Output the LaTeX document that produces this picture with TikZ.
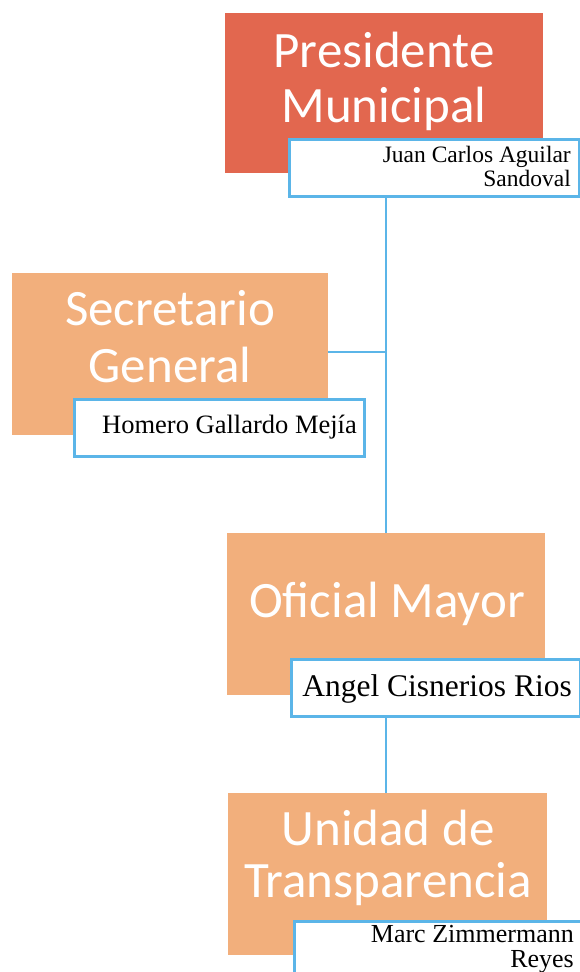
\documentclass[tikz,border=0pt]{standalone}
\usepackage{fontspec}
\setmainfont{Liberation Serif}
\newfontfamily\titlefont{Carlito}
\definecolor{presred}{HTML}{E2674F}
\definecolor{unitorange}{HTML}{F2AF7C}
\definecolor{linkblue}{HTML}{5BB5E8}
\tikzset{
  orgbox/.style={fill=unitorange, draw=none, inner sep=0pt},
  namebox/.style={fill=white, draw=linkblue, line width=2.5pt, inner sep=0pt},
  titletext/.style={text=white, font=\titlefont\fontsize{51}{55}\selectfont, anchor=base, inner sep=0pt},
  nametext/.style={text=black, anchor=base east, inner sep=0pt},
  link/.style={draw=linkblue, line width=2.5pt}
}
\begin{document}
\begin{tikzpicture}[x=1pt,y=-1pt]
\useasboundingbox[fill=white] (0,0) rectangle (580,972);
% Presidente Municipal
\node[orgbox, fill=presred, minimum width=318pt, minimum height=160pt, anchor=north west] (pres) at (225,13) {};
\node[titletext] (pres1) at (384,67) {Presidente};
\node[titletext] (pres2) at (384,122) {Municipal};
\node[namebox, minimum width=290pt, minimum height=57pt, anchor=north west] (presn) at (288,138) {};
\node[nametext, font=\fontsize{23.5}{24}\selectfont] (presn1) at (571,162) {Juan Carlos Aguilar};
\node[nametext, font=\fontsize{23.5}{24}\selectfont] (presn2) at (571,186) {Sandoval};
% Secretario General
\node[orgbox, minimum width=316pt, minimum height=162pt, anchor=north west] (sec) at (12,273) {};
\node[titletext] (sec1) at (170,325) {Secretario};
\node[titletext] (sec2) at (170,382) {General};
\node[namebox, minimum width=290pt, minimum height=57pt, anchor=north west] (secn) at (73,398) {};
\node[nametext, font=\fontsize{26.5}{28}\selectfont] (secn1) at (357,433) {Homero Gallardo Mejía};
% Oficial Mayor
\node[orgbox, minimum width=318pt, minimum height=162pt, anchor=north west] (ofi) at (227,533) {};
\node[titletext] (ofi1) at (387,617) {Oficial Mayor};
\node[namebox, minimum width=289pt, minimum height=57pt, anchor=north west] (ofin) at (290,658) {};
\node[nametext, font=\fontsize{31.5}{33}\selectfont] (ofin1) at (572,696) {Angel Cisnerios Rios};
% Unidad de Transparencia
\node[orgbox, minimum width=319pt, minimum height=162pt, anchor=north west] (uni) at (228,793) {};
\node[titletext] (uni1) at (388,845) {Unidad de};
\node[titletext] (uni2) at (388,897) {Transparencia};
\node[namebox, minimum width=290pt, minimum height=70pt, anchor=north west] (unin) at (293,920) {};
\node[nametext, font=\fontsize{26}{27}\selectfont] (unin1) at (574,942) {Marc Zimmermann};
\node[nametext, font=\fontsize{26}{27}\selectfont] (unin2) at (574,967) {Reyes};
% connectors
\coordinate (j) at (386,352);
\draw[link] (presn.south -| j) -- (ofi.north -| j);
\draw[link] (sec.east |- j) -- (j);
\draw[link] (ofin.south -| j) -- (uni.north -| j);
\end{tikzpicture}
\end{document}
